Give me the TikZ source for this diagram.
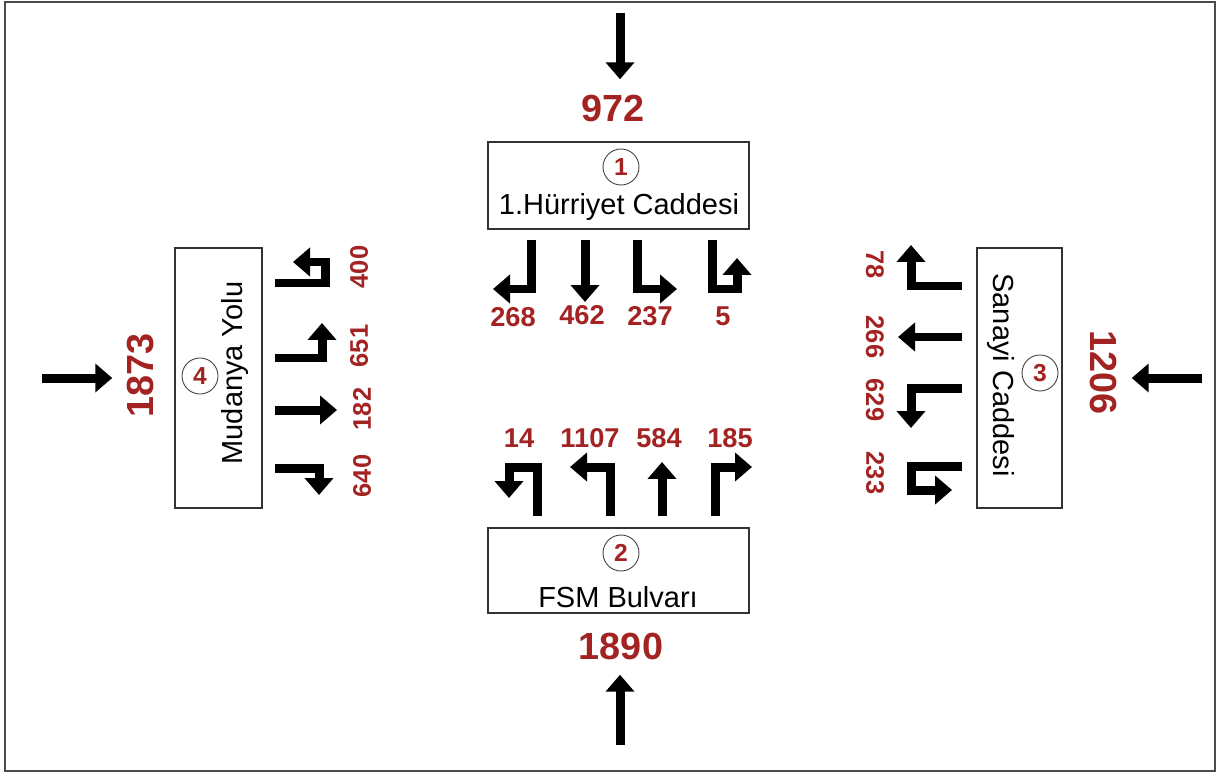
\documentclass[tikz,border=0pt]{standalone}
\usepackage{fontspec}
\setmainfont{Liberation Sans}
\usetikzlibrary{arrows.meta}
\definecolor{volred}{HTML}{A32222}
\definecolor{edge}{HTML}{4A4A4A}
\tikzset{
  frame/.style={draw=edge,line width=1.1pt},
  armbox/.style={draw=black!80,line width=0.7pt,fill=white},
  armno/.style={circle,draw=black!75,line width=0.5pt,minimum size=0.72cm,inner sep=0pt,
                text=volred,font=\fontsize{14}{14}\selectfont\bfseries},
  street/.style={font=\fontsize{16.5}{17}\selectfont,inner sep=0pt},
  vol/.style={text=volred,font=\fontsize{15.5}{16}\selectfont\bfseries,inner sep=0pt},
  sidevol/.style={vol,font=\fontsize{14.5}{15}\selectfont\bfseries},
  total/.style={text=volred,font=\fontsize{21.5}{22}\selectfont\bfseries,inner sep=0pt},
  move/.style={line width=0.18cm,line join=miter,-{Triangle[width=0.56cm,length=0.34cm]}},
  approach/.style={move,shorten >=0.3cm},
}
\begin{document}
\begin{tikzpicture}[x=0.02cm,y=-0.02cm]
  \useasboundingbox (0,0) rectangle (1216,773);
  \draw[frame] (5,2) rectangle (1215,771);
  \node[armbox,minimum width=5.22cm,minimum height=1.74cm] (hurriyet) at (618.5,185.5) {};
  \node[armbox,minimum width=5.22cm,minimum height=1.70cm] (fsm) at (618.5,570.5) {};
  \node[armbox,minimum width=1.70cm,minimum height=5.20cm] (sanayi) at (1019.5,378) {};
  \node[armbox,minimum width=1.74cm,minimum height=5.20cm] (mudanya) at (218.5,378) {};
  \node[armno] (no1) at (621,167) {1};
  \node[street] (st1) at (619,207) {1.Hürriyet Caddesi};
  \node[armno] (no2) at (621,553) {2};
  \node[street] (st2) at (618,597) {FSM Bulvarı};
  \node[armno] (no3) at (1040,373) {3};
  \node[street,rotate=-90] (st3) at (1001,375) {Sanayi Caddesi};
  \node[armno] (no4) at (200,376) {4};
  \node[street,rotate=90] (st4) at (235,373) {Mudanya Yolu};
  \node[total] (tot1) at (613,108) {972};
  \node[total] (tot2) at (621,646) {1890};
  \node[total,rotate=-90] (tot3) at (1103,373) {1206};
  \node[total,rotate=90] (tot4) at (141,375) {1873};
  \coordinate (in1) at (620,13);
  \coordinate (in2) at (620,745);
  \coordinate (in3) at (1202,378);
  \coordinate (in4) at (42,378);
  \draw[approach] (in1) -- (in1 |- tot1.north);
  \draw[approach] (in2) -- (in2 |- tot2.south);
  \draw[approach] (in3) -- (in3 -| tot3.north);
  \draw[approach] (in4) -- (in4 -| tot4.north);
  \draw[move] (531,240) -- (531,289) -- (493,289);
  \draw[move] (585,240) -- (585,302);
  \draw[move] (637,240) -- (637,289) -- (677,289);
  \draw[move] (712,240) -- (712,289) -- (737,289) -- (737,258);
  \node[vol] (v268) at (513,317) {268};
  \node[vol] (v462) at (582,315) {462};
  \node[vol] (v237) at (650,316) {237};
  \node[vol] (v5) at (723,316) {5};
  \draw[move] (537,516) -- (537,467) -- (509,467) -- (509,498);
  \draw[move] (610,516) -- (610,467) -- (570,467);
  \draw[move] (662,516) -- (662,462);
  \draw[move] (715,516) -- (715,467) -- (752,467);
  \node[vol] (v14) at (519,438) {14};
  \node[vol] (v1107) at (590,438) {1107};
  \node[vol] (v584) at (659,438) {584};
  \node[vol] (v185) at (730,438) {185};
  \draw[move] (962,286) -- (911,286) -- (911,245);
  \draw[move] (962,337) -- (898,337);
  \draw[move] (962,388) -- (911,388) -- (911,428);
  \draw[move] (962,466) -- (911,466) -- (911,490) -- (952,490);
  \node[sidevol,rotate=-90] (v78) at (875,265) {78};
  \node[sidevol,rotate=-90] (v266) at (875,337) {266};
  \node[sidevol,rotate=-90] (v629) at (875,400) {629};
  \node[sidevol,rotate=-90] (v233) at (875,473) {233};
  \draw[move] (275,283) -- (325,283) -- (325,262) -- (293,262);
  \draw[move] (275,358) -- (322,358) -- (322,323);
  \draw[move] (275,410) -- (337,410);
  \draw[move] (275,468) -- (319,468) -- (319,495);
  \node[sidevol,rotate=90] (v400) at (359,267) {400};
  \node[sidevol,rotate=90] (v651) at (359,346) {651};
  \node[sidevol,rotate=90] (v182) at (362,409) {182};
  \node[sidevol,rotate=90] (v640) at (362,476) {640};
\end{tikzpicture}
\end{document}
